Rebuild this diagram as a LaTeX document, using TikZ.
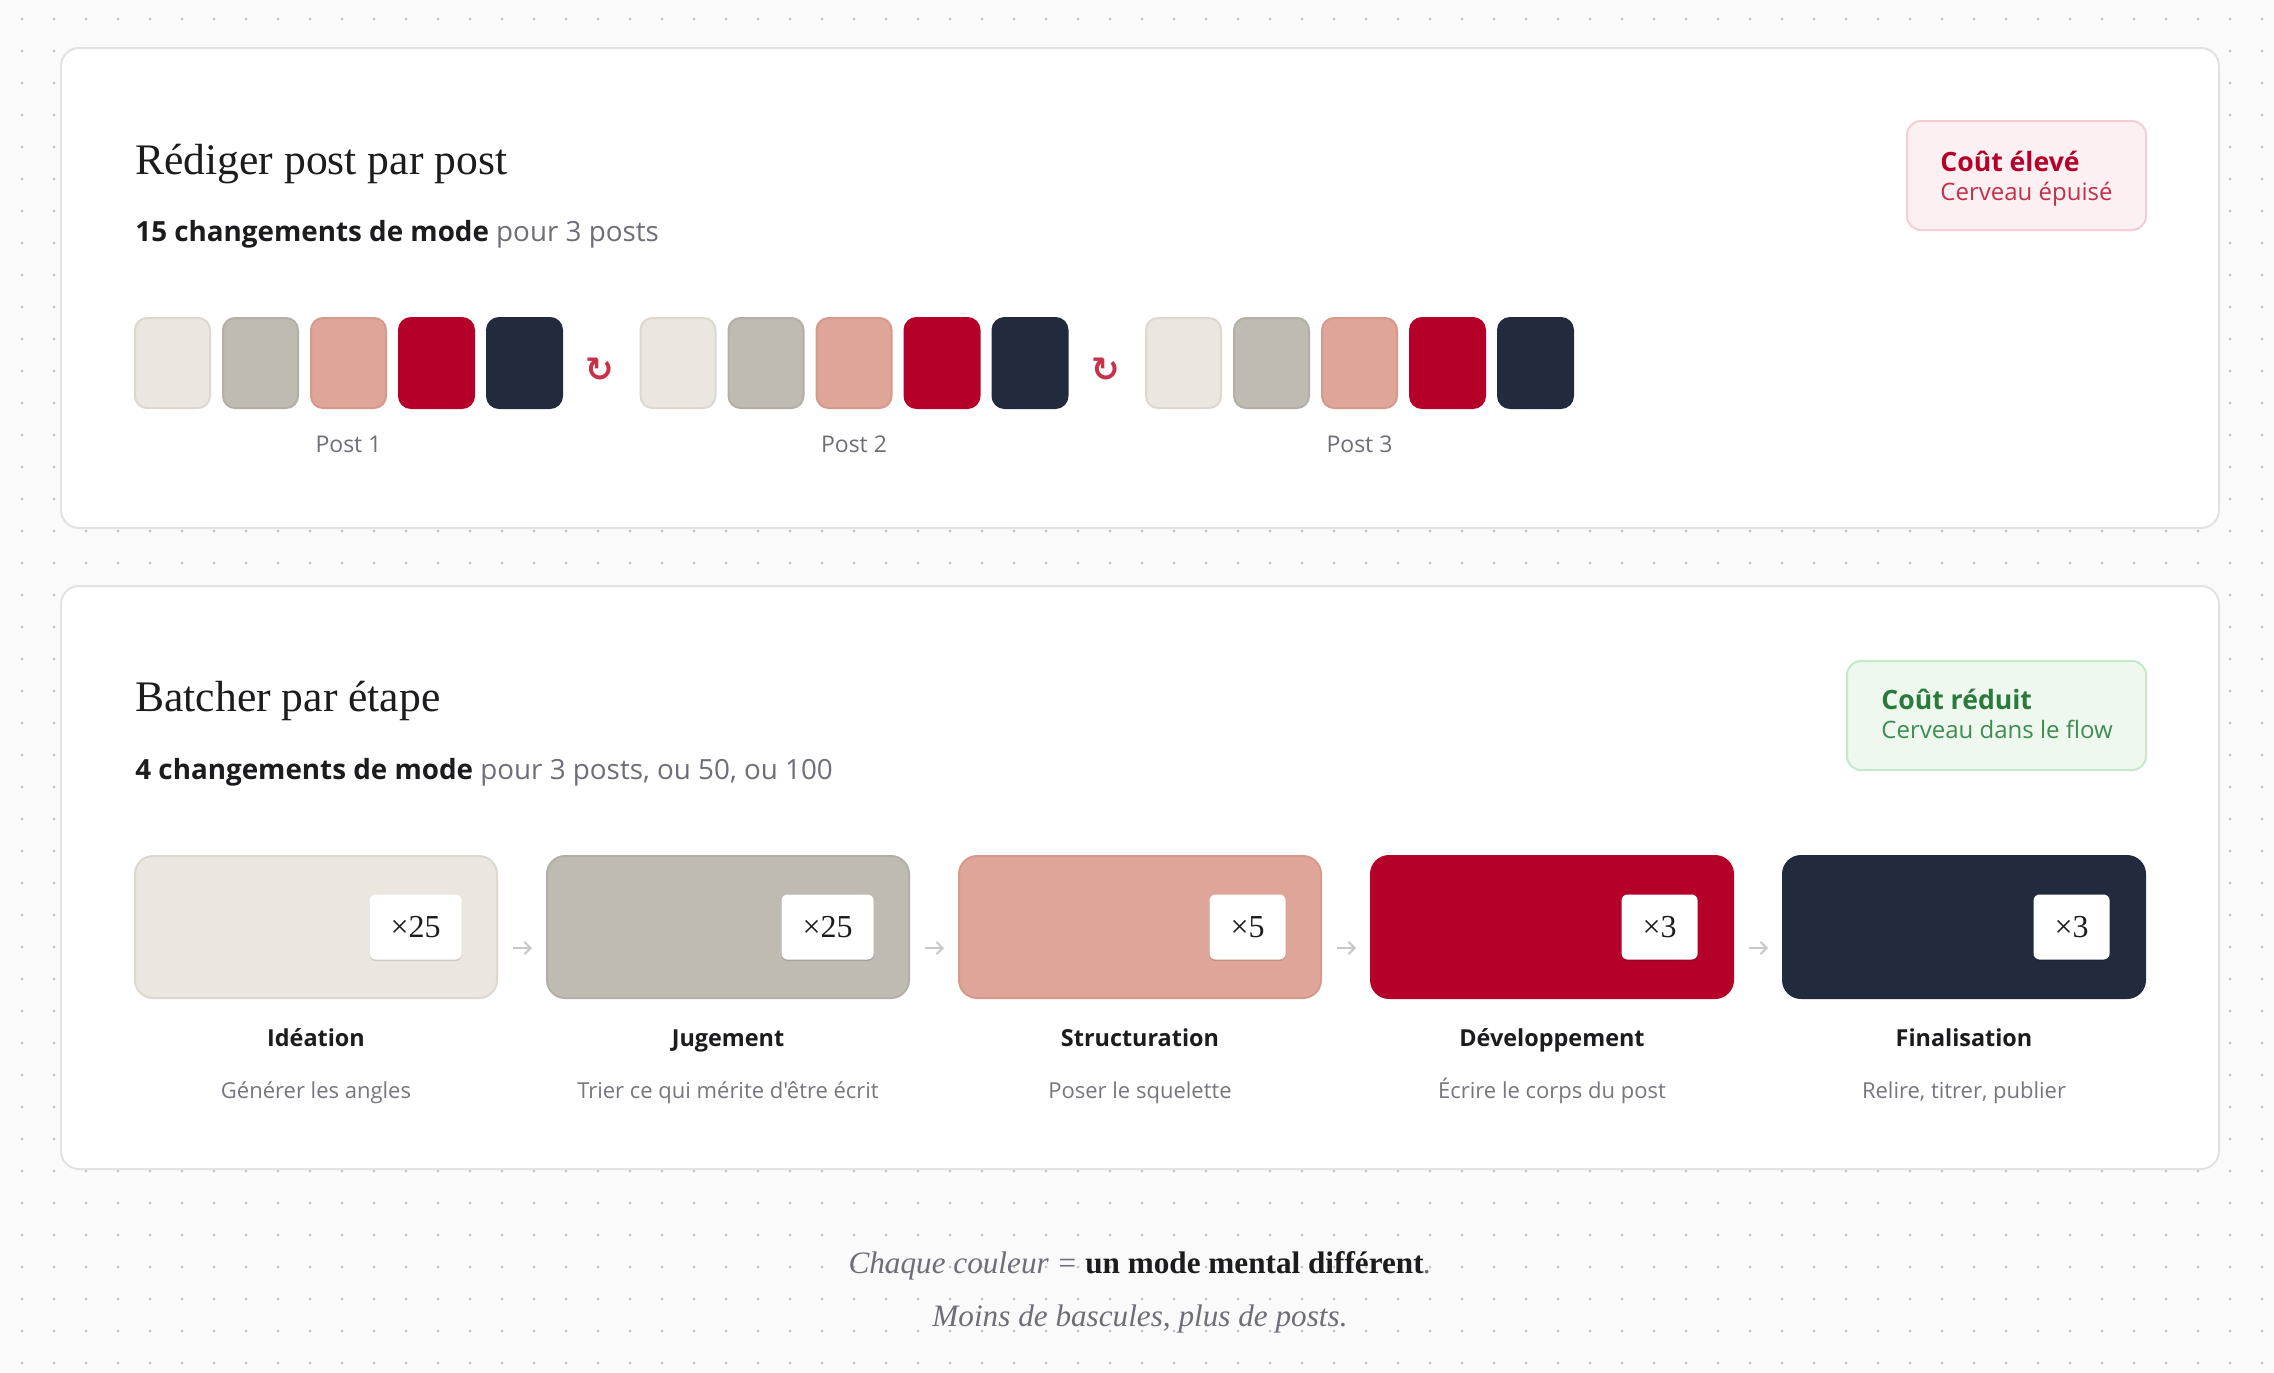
\documentclass[tikz,border=0pt]{standalone}
\usepackage{fontspec}
\setmainfont{Liberation Serif}
\setsansfont{Open Sans}[Ligatures=TeXOff]
\newfontfamily\symfont{DejaVu Sans}
\usetikzlibrary{arrows.meta,shadows}
\definecolor{bgc}{HTML}{FAFAFA}
\definecolor{dotc}{HTML}{C9C9C9}
\definecolor{cardline}{HTML}{E2E2E2}
\definecolor{ink}{HTML}{1C1C1E}
\definecolor{subgray}{HTML}{6E6E78}
\definecolor{descgray}{HTML}{76767E}
\definecolor{cA}{HTML}{EBE6E0}\definecolor{cAb}{HTML}{DDD7D0}
\definecolor{cB}{HTML}{BFBAB2}\definecolor{cBb}{HTML}{B3AEA6}
\definecolor{cC}{HTML}{DFA598}\definecolor{cCb}{HTML}{D69A8C}
\definecolor{cD}{HTML}{B5002A}
\definecolor{cE}{HTML}{212B3D}
\definecolor{redbg}{HTML}{FDF0F2}\definecolor{redline}{HTML}{F6CDD4}
\definecolor{redtxt}{HTML}{B5002A}\definecolor{redtxt2}{HTML}{C2304A}
\definecolor{grnbg}{HTML}{EEF8EE}\definecolor{grnline}{HTML}{C8E8CC}
\definecolor{grntxt}{HTML}{2B7A3D}\definecolor{grntxt2}{HTML}{3E8C50}
\definecolor{loopc}{HTML}{C8314A}
\definecolor{arrc}{HTML}{C8C8C8}
\begin{document}
\begin{tikzpicture}[x=0.5pt,y=-0.5pt,
  card/.style={draw=cardline,line width=1pt,fill=white,rounded corners=9pt,inner sep=0pt,outer sep=0pt},
  ttl/.style={inner sep=0pt,text=ink,font=\fontsize{21.8pt}{26pt}\selectfont},
  subt/.style={inner sep=0pt,text=ink,font=\sffamily\fontsize{13.9pt}{16pt}\selectfont},
  sq/.style={minimum width=37.5pt,minimum height=45pt,inner sep=0pt,rounded corners=6pt,line width=1pt},
  sqA/.style={sq,fill=cA,draw=cAb},
  sqB/.style={sq,fill=cB,draw=cBb},
  sqC/.style={sq,fill=cC,draw=cCb},
  sqD/.style={sq,fill=cD,draw=cD},
  sqE/.style={sq,fill=cE,draw=cE},
  big/.style={minimum width=181pt,minimum height=71pt,inner sep=0pt,rounded corners=9pt,line width=1pt},
  mult/.style={fill=white,rounded corners=3pt,inner xsep=10.5pt,inner ysep=0pt,minimum height=32.5pt,
    font=\fontsize{16pt}{18pt}\selectfont,text=ink,drop shadow={shadow xshift=0pt,shadow yshift=-0.8pt,opacity=0.12,fill=black}},
  loopsym/.style={inner sep=0pt,text=loopc,font=\symfont\bfseries\fontsize{17pt}{19pt}\selectfont},
  postlab/.style={inner sep=0pt,text=subgray,font=\sffamily\fontsize{11.5pt}{13pt}\selectfont},
  lab/.style={inner sep=0pt,text=ink,font=\sffamily\bfseries\fontsize{11.7pt}{13pt}\selectfont},
  desc/.style={inner sep=0pt,text=descgray,font=\sffamily\fontsize{11pt}{13pt}\selectfont},
  conn/.style={draw=arrc,line width=1pt,-{Straight Barb[length=3pt,width=6pt]},shorten <=7.5pt,shorten >=7pt},
  badge/.style={rounded corners=7pt,line width=1pt,inner sep=0pt,minimum height=54.5pt},
  btop/.style={inner sep=0pt,font=\sffamily\bfseries\fontsize{13.3pt}{15pt}\selectfont},
  bbot/.style={inner sep=0pt,font=\sffamily\fontsize{12pt}{14pt}\selectfont},
  foot/.style={inner sep=0pt,font=\fontsize{15.6pt}{18pt}\selectfont}
]
\useasboundingbox (0,0) rectangle (2274,1372);
\fill[bgc] (0,0) rectangle (2274,1372);
\foreach \i in {0,...,71}{\foreach \j in {0,...,42}{\fill[dotc] (22+32*\i,19+32*\j) circle (0.8pt);}}

% cards
\node[card,anchor=north west,minimum width=1079pt,minimum height=240pt] (card1) at (61,48) {};
\node[card,anchor=north west,minimum width=1079pt,minimum height=291.5pt] (card2) at (61,586) {};

% top section
\node[ttl,anchor=base west] (t1) at (135,174) {Rédiger post par post};
\node[subt,anchor=base west] (s1) at (135,241) {\textbf{15 changements de mode} \textcolor{subgray}{pour 3 posts}};

\node[badge,anchor=north west,minimum width=119.5pt,fill=redbg,draw=redline] (bad1) at (1906,120) {};
\node[btop,anchor=base west,text=redtxt] (bad1a) at (1940,171) {Coût élevé};
\node[bbot,anchor=base west,text=redtxt2] (bad1b) at (1940,200) {Cerveau épuisé};

\foreach \g in {0,1,2}{
  \foreach \k/\s in {0/sqA,1/sqB,2/sqC,3/sqD,4/sqE}{
    \node[\s] (sq\g\k) at (172.5+505.5*\g+88*\k,363) {};
  }
  \node[postlab,anchor=base] (post\g) at (348.5+505.5*\g,452) {Post \the\numexpr\g+1\relax};
}
\node[loopsym] (loop1) at (600,370) {↻};
\node[loopsym] (loop2) at (1106,370) {↻};

% bottom section
\node[ttl,anchor=base west] (t2) at (135,711) {Batcher par étape};
\node[subt,anchor=base west] (s2) at (135,779) {\textbf{4 changements de mode} \textcolor{subgray}{pour 3 posts, ou 50, ou 100}};

\node[badge,anchor=north west,minimum width=149.5pt,fill=grnbg,draw=grnline] (bad2) at (1846,660) {};
\node[btop,anchor=base west,text=grntxt] (bad2a) at (1881,709) {Coût réduit};
\node[bbot,anchor=base west,text=grntxt2] (bad2b) at (1881,738) {Cerveau dans le flow};

\foreach \i/\c/\b/\m/\n/\d in {
  0/cA/cAb/25/Idéation/Générer les angles,
  1/cB/cBb/25/Jugement/Trier ce qui mérite d'être écrit,
  2/cC/cCb/5/Structuration/Poser le squelette,
  3/cD/cD/3/Développement/Écrire le corps du post,
  4/cE/cE/3/Finalisation/{Relire, titrer, publier}}{
  \node[big,fill=\c,draw=\b] (B\i) at (316+412*\i,927) {};
  \node[mult,anchor=east] (M\i) at ([xshift=-18pt]B\i.east) {×\m};
  \node[lab,anchor=base] (L\i) at (316+412*\i,1046) {\n};
  \node[desc,anchor=base] (D\i) at (316+412*\i,1098) {\d};
}
\foreach \i/\j in {0/1,1/2,2/3,3/4}{
  \draw[conn] ([yshift=-10.5pt]B\i.east) -- ([yshift=-10.5pt]B\j.west);
}

% footer
\node[foot,anchor=base] (f1) at (1140,1273) {\textcolor{subgray}{\itshape Chaque couleur =} \textcolor{ink}{\bfseries un mode mental différent}\textcolor{subgray}{\itshape .}};
\node[foot,anchor=base,text=subgray] (f2) at (1140,1326) {\itshape Moins de bascules, plus de posts.};
\end{tikzpicture}
\end{document}
